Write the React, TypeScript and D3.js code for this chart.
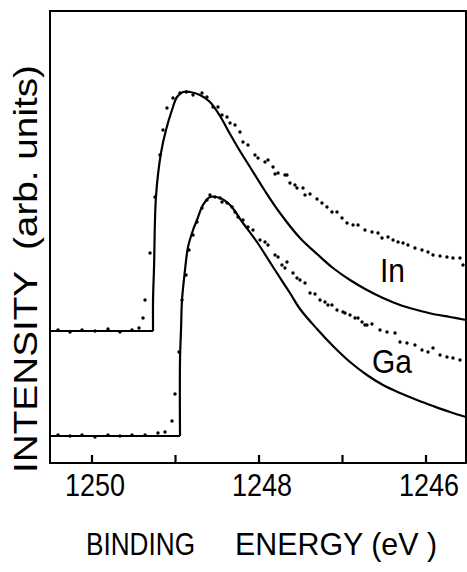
import React from "react";
import * as d3 from "d3";

const W = 467;
const H = 572;

const xDomain: [number, number] = [1250.503, 1245.521];
const yDomain: [number, number] = [0, 452];
const xTicks = [1250, 1249, 1248, 1247, 1246];
const xTickLabels = ["1250", "", "1248", "", "1246"];

// In : fitted curve (energy eV, intensity arb.)
const inBaseline: [number, number][] = [[1250.503, 132], [1249.269, 132]];
const inFit: [number, number][] = [
  [1249.269, 132], [1249.269, 163], [1249.257, 196], [1249.234, 266], [1249.174, 310],
  [1249.114, 333], [1249.042, 353], [1248.982, 366], [1248.91, 371], [1248.826, 371],
  [1248.707, 368], [1248.587, 361], [1248.467, 347], [1248.347, 329], [1248.228, 312],
  [1248.108, 296], [1247.928, 272], [1247.749, 250], [1247.509, 225], [1247.305, 209],
  [1247.114, 195], [1246.91, 183], [1246.707, 173], [1246.515, 165], [1246.311, 158],
  [1246.108, 153], [1245.916, 149], [1245.713, 146], [1245.521, 143],
];
const inDots: [number, number][] = [
  [1250.407, 133], [1250.263, 131], [1250.12, 133], [1249.964, 132], [1249.808, 134],
  [1249.665, 131], [1249.521, 133], [1249.437, 135], [1249.389, 145], [1249.365, 163],
  [1249.305, 210], [1249.246, 266], [1249.186, 308], [1249.15, 333], [1249.102, 355],
  [1249.03, 365], [1248.946, 370], [1248.87, 371], [1248.79, 368], [1248.683, 370],
  [1248.623, 366], [1248.551, 356], [1248.491, 356], [1248.443, 348], [1248.383, 346],
  [1248.347, 340], [1248.287, 338], [1248.228, 331], [1248.192, 321], [1248.132, 318],
  [1248.048, 308], [1248.012, 305], [1247.928, 301], [1247.892, 303], [1247.832, 296],
  [1247.808, 289], [1247.772, 290], [1247.689, 288], [1247.665, 288], [1247.629, 280],
  [1247.569, 278], [1247.545, 275], [1247.473, 275], [1247.449, 268], [1247.389, 269],
  [1247.305, 264], [1247.246, 260], [1247.186, 256], [1247.126, 251], [1247.066, 251],
  [1247.006, 245], [1246.946, 240], [1246.874, 238], [1246.814, 238], [1246.731, 233],
  [1246.647, 231], [1246.575, 230], [1246.527, 225], [1246.455, 226], [1246.395, 223],
  [1246.335, 221], [1246.275, 220], [1246.216, 218], [1246.132, 215], [1246.048, 213],
  [1245.976, 211], [1245.916, 208], [1245.832, 207], [1245.749, 206], [1245.677, 205],
  [1245.593, 205], [1245.557, 198],
];

// Ga : fitted curve
const gaBaseline: [number, number][] = [[1250.503, 27], [1248.946, 27]];
const gaFit: [number, number][] = [
  [1248.946, 27], [1248.946, 103], [1248.934, 133], [1248.922, 163], [1248.886, 193],
  [1248.85, 216], [1248.79, 233], [1248.743, 243], [1248.671, 258], [1248.587, 266],
  [1248.467, 265], [1248.347, 258], [1248.192, 240], [1248.024, 221], [1247.832, 196],
  [1247.629, 170], [1247.509, 154], [1247.305, 134], [1247.114, 117], [1246.91, 101],
  [1246.707, 88], [1246.515, 78], [1246.311, 70], [1246.108, 63], [1245.916, 57],
  [1245.713, 51], [1245.521, 46],
];
const gaDots: [number, number][] = [
  [1250.407, 28], [1250.263, 27], [1250.12, 28], [1249.964, 26], [1249.808, 28],
  [1249.665, 27], [1249.521, 28], [1249.365, 28], [1249.21, 30], [1249.126, 31],
  [1249.042, 42], [1249.006, 69], [1248.958, 111], [1248.922, 163], [1248.874, 188],
  [1248.838, 213], [1248.79, 228], [1248.743, 241], [1248.683, 255], [1248.623, 263],
  [1248.587, 268], [1248.527, 266], [1248.467, 265], [1248.443, 261], [1248.383, 260],
  [1248.323, 256], [1248.287, 251], [1248.251, 246], [1248.192, 243], [1248.132, 236],
  [1248.072, 233], [1247.988, 223], [1247.928, 221], [1247.892, 218], [1247.808, 208],
  [1247.772, 206], [1247.725, 198], [1247.665, 201], [1247.689, 195], [1247.593, 190],
  [1247.545, 185], [1247.509, 183], [1247.449, 180], [1247.389, 170], [1247.329, 169],
  [1247.269, 163], [1247.21, 161], [1247.174, 158], [1247.126, 158], [1247.066, 153],
  [1246.994, 151], [1246.97, 150], [1246.91, 148], [1246.85, 145], [1246.814, 145],
  [1246.766, 141], [1246.731, 138], [1246.707, 138], [1246.647, 139], [1246.551, 133],
  [1246.467, 131], [1246.371, 130], [1246.311, 121], [1246.228, 120], [1246.132, 118],
  [1246.048, 113], [1245.976, 111], [1245.916, 115], [1245.832, 108], [1245.749, 106],
  [1245.677, 105], [1245.593, 103],
];

const FONT = "'Liberation Sans', Arial, sans-serif";

export default function App() {
  const x = d3.scaleLinear().domain(xDomain).range([50, 466]);
  const y = d3.scaleLinear().domain(yDomain).range([463, 11]);
  const straight = d3
    .line<[number, number]>()
    .x((d) => x(d[0]))
    .y((d) => y(d[1]));
  const smooth = d3
    .line<[number, number]>()
    .x((d) => x(d[0]))
    .y((d) => y(d[1]))
    .curve(d3.curveCatmullRom.alpha(0.5));

  const left = x(xDomain[0]);
  const right = x(xDomain[1]);
  const top = y(yDomain[1]);
  const bottom = y(yDomain[0]);

  return (
    <svg
      width={W}
      height={H}
      style={{ position: "absolute", left: 0, top: 0, background: "#fff" }}
    >
      <rect x={0} y={0} width={W} height={H} fill="#fff" />
      <rect
        x={left}
        y={top}
        width={right - left}
        height={bottom - top}
        fill="none"
        stroke="#000"
        strokeWidth={2}
      />
      {xTicks.map((t, i) => (
        <g key={t}>
          <line x1={x(t)} x2={x(t)} y1={bottom} y2={bottom - 8} stroke="#000" strokeWidth={2.2} />
          {xTickLabels[i] && (
            <text
              x={x(t) + 3}
              y={496}
              textAnchor="middle"
              fontFamily={FONT}
              fontSize={31}
              textLength={60}
              lengthAdjust="spacingAndGlyphs"
            >
              {xTickLabels[i]}
            </text>
          )}
        </g>
      ))}
      <path d={straight(inBaseline) || ""} fill="none" stroke="#000" strokeWidth={2.2} />
      <path d={smooth(inFit) || ""} fill="none" stroke="#000" strokeWidth={2.2} />
      <path d={straight(gaBaseline) || ""} fill="none" stroke="#000" strokeWidth={2.2} />
      <path d={smooth(gaFit) || ""} fill="none" stroke="#000" strokeWidth={2.2} />
      {inDots.map((d, i) => (
        <circle key={"i" + i} cx={x(d[0])} cy={y(d[1])} r={1.7} fill="#000" />
      ))}
      {gaDots.map((d, i) => (
        <circle key={"g" + i} cx={x(d[0])} cy={y(d[1])} r={1.7} fill="#000" />
      ))}
      <text x={380} y={282} fontFamily={FONT} fontSize={34} textLength={25} lengthAdjust="spacingAndGlyphs">
        In
      </text>
      <text x={372} y={373} fontFamily={FONT} fontSize={34} textLength={40} lengthAdjust="spacingAndGlyphs">
        Ga
      </text>
      <text
        transform="translate(37,473) rotate(-90)"
        x={0}
        y={0}
        fontFamily={FONT}
        fontSize={33}
        textLength={408}
        lengthAdjust="spacingAndGlyphs"
        style={{ whiteSpace: "pre" }}
      >
        {"INTENSITY  (arb. units)"}
      </text>
      <text x={86} y={555} fontFamily={FONT} fontSize={32} textLength={109} lengthAdjust="spacingAndGlyphs">
        BINDING
      </text>
      <text
        x={235}
        y={555}
        fontFamily={FONT}
        fontSize={32}
        textLength={202}
        lengthAdjust="spacingAndGlyphs"
        style={{ whiteSpace: "pre" }}
      >
        {"ENERGY (eV )"}
      </text>
    </svg>
  );
}
